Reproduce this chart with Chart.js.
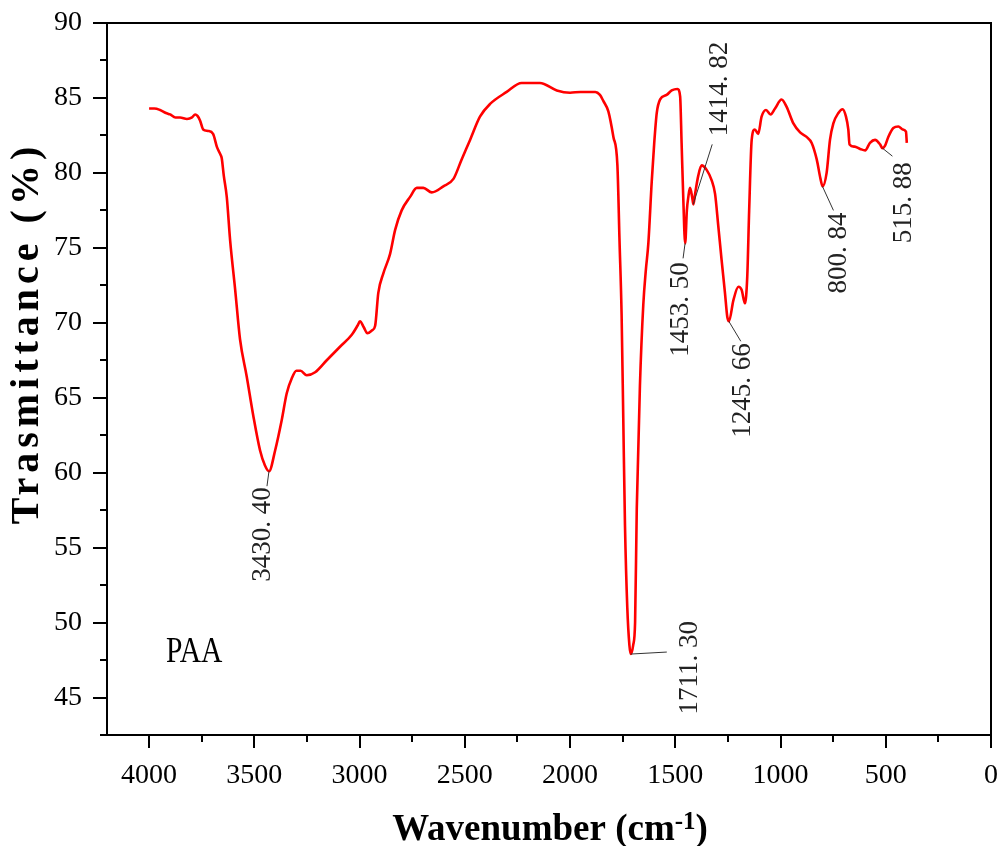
<!DOCTYPE html>
<html>
<head>
<meta charset="utf-8">
<script src="https://cdn.jsdelivr.net/npm/chart.js@4.4.1/dist/chart.umd.min.js"></script>
<style>
  html, body { margin: 0; padding: 0; background: #fff; }
  #wrap { width: 1000px; height: 846px; }
</style>
</head>
<body>
<div id="wrap"><canvas id="ftir" width="1000" height="846"></canvas></div>
<script>
// espectro FTIR del PAA
const wavenumbers = [
  4000, 3975, 3948, 3920, 3900, 3875, 3853, 3820, 3796, 3781, 3770, 3758, 3743, 3720, 3696, 3677,
  3660, 3655, 3645, 3631, 3615, 3591, 3568, 3536, 3505, 3473, 3450, 3430, 3401, 3370, 3346, 3322,
  3300, 3280, 3251, 3211, 3156, 3093, 3037, 3010, 2998, 2980, 2963, 2940, 2926, 2911, 2887, 2855,
  2831, 2800, 2760, 2728, 2697, 2657, 2602, 2554, 2515, 2475, 2428, 2380, 2301, 2230, 2143, 2063,
  2000, 1950, 1905, 1880, 1858, 1842, 1818, 1794, 1775, 1765, 1755, 1747, 1739, 1728, 1718, 1711,
  1700, 1691, 1683, 1668, 1652, 1640, 1628, 1612, 1600, 1588, 1572, 1541, 1517, 1490, 1477, 1470,
  1462, 1453, 1445, 1437, 1430, 1420, 1414, 1406, 1391, 1375, 1351, 1327, 1311, 1296, 1280, 1264,
  1253, 1245, 1224, 1200, 1185, 1169, 1158, 1149, 1137, 1122, 1106, 1090, 1069, 1047, 1026, 995,
  971, 939, 907, 876, 852, 828, 810, 800, 781, 765, 749, 725, 705, 689, 678, 672,
  648, 622, 598, 575, 551, 527, 516, 504, 488, 464, 440, 420, 404, 400
]
const transmittance = [
  84.3, 84.3, 84.2, 84.0, 83.9, 83.7, 83.7, 83.6, 83.7, 83.9, 83.8, 83.5, 82.9, 82.8, 82.6, 81.7,
  81.2, 81.0, 79.8, 78.4, 75.5, 72.2, 68.9, 66.4, 63.8, 61.5, 60.5, 60.1, 61.5, 63.5, 65.3, 66.3,
  66.8, 66.8, 66.5, 66.7, 67.5, 68.4, 69.2, 69.8, 70.1, 69.7, 69.3, 69.5, 69.8, 72.0, 73.3, 74.6,
  76.2, 77.5, 78.4, 79.0, 79.0, 78.7, 79.1, 79.6, 80.9, 82.2, 83.75, 84.6, 85.4, 86.0, 86.0, 85.5,
  85.35, 85.4, 85.4, 85.4, 85.2, 84.8, 84.1, 82.4, 80.5, 75.5, 70.5, 63.5, 56.5, 51.0, 48.5, 47.9,
  48.5, 50.0, 57.6, 65.8, 71.2, 73.5, 75.3, 79.4, 82.0, 84.0, 84.9, 85.2, 85.5, 85.6, 85.1, 82.0,
  78.3, 75.3, 77.5, 78.5, 79.0, 78.4, 77.9, 78.6, 79.8, 80.5, 80.2, 79.5, 78.6, 76.5, 74.2, 72.0,
  70.4, 70.1, 71.5, 72.4, 72.2, 71.3, 73.1, 77.5, 82.2, 82.9, 82.6, 83.75, 84.2, 83.9, 84.3, 84.9,
  84.4, 83.3, 82.7, 82.4, 82.0, 80.9, 79.6, 79.1, 80.0, 82.2, 83.3, 84.0, 84.25, 83.75, 82.9, 81.9,
  81.75, 81.6, 81.5, 82.0, 82.2, 81.9, 81.65, 81.8, 82.4, 83.0, 83.1, 82.9, 82.75, 82.0
]

const xTicks = [4000, 3500, 3000, 2500, 2000, 1500, 1000, 500, 0]
const xMinorTicks = [3750, 3250, 2750, 2250, 1750, 1250, 750, 250]
const yTicks = [45, 50, 55, 60, 65, 70, 75, 80, 85, 90]
const yMinorTicks = [42.5, 47.5, 52.5, 57.5, 62.5, 67.5, 72.5, 77.5, 82.5, 87.5]

const peakWavenumbers = [3430.40, 1711.30, 1453.50, 1414.82, 1245.66, 800.84, 515.88]
const peakValues = [60.1, 47.9, 75.3, 77.9, 70.1, 79.1, 81.65]
const peakLabels = ['3430. 40', '1711. 30', '1453. 50', '1414. 82', '1245. 66', '800. 84', '515. 88']

// donde va cada etiqueta respecto a su pico (px)
const labelLayout = [
  { lead: [-2, 15], text: [-6, 16], anchor: 'top' },
  { lead: [36, -2], text: [59, -33], anchor: 'top' },
  { lead: [-2, 15], text: [-4, 19], anchor: 'top' },
  { lead: [19, -60], text: [27, -68], anchor: 'bottom' },
  { lead: [12, 20], text: [14, 22], anchor: 'top' },
  { lead: [11, 24], text: [16, 26], anchor: 'top' },
  { lead: [10, 8], text: [21, 14], anchor: 'top' }
]

const sampleName = 'PAA'
const sampleAt = [3920, 47.4]

const dibujarMarcas = (ctx, a, x, y) => {
  ctx.strokeStyle = '#000'
  ctx.lineWidth = 2
  ctx.strokeRect(a.left, a.top, a.right - a.left, a.bottom - a.top)
  ctx.beginPath()
  xTicks.forEach(v => { const p = Math.round(x.getPixelForValue(v)); ctx.moveTo(p, a.bottom); ctx.lineTo(p, a.bottom + 13) })
  xMinorTicks.forEach(v => { const p = Math.round(x.getPixelForValue(v)); ctx.moveTo(p, a.bottom); ctx.lineTo(p, a.bottom + 7) })
  yTicks.forEach(v => { const p = Math.round(y.getPixelForValue(v)); ctx.moveTo(a.left, p); ctx.lineTo(a.left - 14, p) })
  yMinorTicks.forEach(v => { const p = Math.round(y.getPixelForValue(v)); ctx.moveTo(a.left, p); ctx.lineTo(a.left - 7, p) })
  ctx.stroke()
}

const dibujarPicos = (ctx, x, y) => {
  ctx.font = '27px "Liberation Serif"'
  ctx.fillStyle = '#222'
  ctx.strokeStyle = '#333'
  ctx.lineWidth = 1
  peakWavenumbers.forEach((w, i) => {
    const px = x.getPixelForValue(w)
    const py = y.getPixelForValue(peakValues[i])
    const l = labelLayout[i]
    ctx.beginPath()
    ctx.moveTo(px, py)
    ctx.lineTo(px + l.lead[0], py + l.lead[1])
    ctx.stroke()
    ctx.save()
    ctx.translate(px + l.text[0], py + l.text[1])
    ctx.rotate(-Math.PI / 2)
    ctx.textBaseline = 'middle'
    ctx.textAlign = l.anchor === 'top' ? 'right' : 'left'
    ctx.fillText(peakLabels[i], 0, 0)
    ctx.restore()
  })
}

const dibujarTitulos = (ctx, x, y) => {
  ctx.fillStyle = '#000'
  // muestra
  ctx.save()
  ctx.translate(x.getPixelForValue(sampleAt[0]), y.getPixelForValue(sampleAt[1]))
  ctx.scale(0.82, 1)
  ctx.font = '36px "Liberation Serif"'
  ctx.textBaseline = 'alphabetic'
  ctx.fillText(sampleName, 0, 0)
  ctx.restore()

  // eje y
  ctx.save()
  ctx.translate(28, 333)
  ctx.rotate(-Math.PI / 2)
  ctx.font = 'bold 40px "Liberation Serif"'
  ctx.letterSpacing = '5px'
  ctx.textAlign = 'center'
  ctx.textBaseline = 'middle'
  ctx.fillText('Trasmittance (%)', 0, 0)
  ctx.restore()

  // eje x con superindice
  ctx.save()
  const main = 'Wavenumber (cm'
  const sup = '-1'
  const close = ')'
  ctx.font = 'bold 37px "Liberation Serif"'
  const w1 = ctx.measureText(main).width
  const w3 = ctx.measureText(close).width
  ctx.font = 'bold 25px "Liberation Serif"'
  const w2 = ctx.measureText(sup).width
  let sx = 550 - (w1 + w2 + w3) / 2
  const base = 840
  ctx.textBaseline = 'alphabetic'
  ctx.font = 'bold 37px "Liberation Serif"'
  ctx.fillText(main, sx, base)
  sx += w1
  ctx.font = 'bold 25px "Liberation Serif"'
  ctx.fillText(sup, sx, base - 11)
  sx += w2
  ctx.font = 'bold 37px "Liberation Serif"'
  ctx.fillText(close, sx, base)
  ctx.restore()
}

const decorPlugin = {
  id: 'decor',
  afterDraw(chart) {
    const { ctx, chartArea, scales } = chart
    ctx.save()
    dibujarMarcas(ctx, chartArea, scales.x, scales.y)
    dibujarPicos(ctx, scales.x, scales.y)
    dibujarTitulos(ctx, scales.x, scales.y)
    ctx.restore()
  }
}

const ctx = document.querySelector('#ftir').getContext('2d')

new Chart(ctx, {
  type: 'line',
  data: {
    datasets: [{
      label: 'PAA',
      data: wavenumbers.map((w, i) => ({ x: w, y: transmittance[i] })),
      borderColor: '#ff0000',
      borderWidth: 2.6,
      pointRadius: 0,
      cubicInterpolationMode: 'monotone',
      fill: false
    }]
  },
  options: {
    responsive: false,
    animation: false,
    layout: { padding: { left: 0, right: 9, top: 23, bottom: 0 } },
    plugins: {
      legend: { display: false },
      tooltip: { enabled: false }
    },
    scales: {
      x: {
        type: 'linear',
        reverse: true,
        min: 0,
        max: 4200,
        grid: { display: false, drawTicks: false },
        border: { display: false },
        afterBuildTicks: (s) => { s.ticks = xTicks.map(v => ({ value: v })) },
        ticks: {
          autoSkip: false,
          maxRotation: 0,
          padding: 24,
          color: '#000',
          font: { family: 'Liberation Serif', size: 28 },
          callback: (v) => String(v)
        },
        afterFit: (s) => { s.height = 111; s.paddingLeft = 0; s.paddingRight = 0 }
      },
      y: {
        min: 42.5,
        max: 90,
        grid: { display: false, drawTicks: false },
        border: { display: false },
        afterBuildTicks: (s) => { s.ticks = yTicks.map(v => ({ value: v })) },
        ticks: {
          padding: 25,
          color: '#000',
          font: { family: 'Liberation Serif', size: 28 },
          callback: (v) => String(v)
        },
        afterFit: (s) => { s.width = 107; s.paddingTop = 0; s.paddingBottom = 0 }
      }
    }
  },
  plugins: [decorPlugin]
})
</script>
</body>
</html>
